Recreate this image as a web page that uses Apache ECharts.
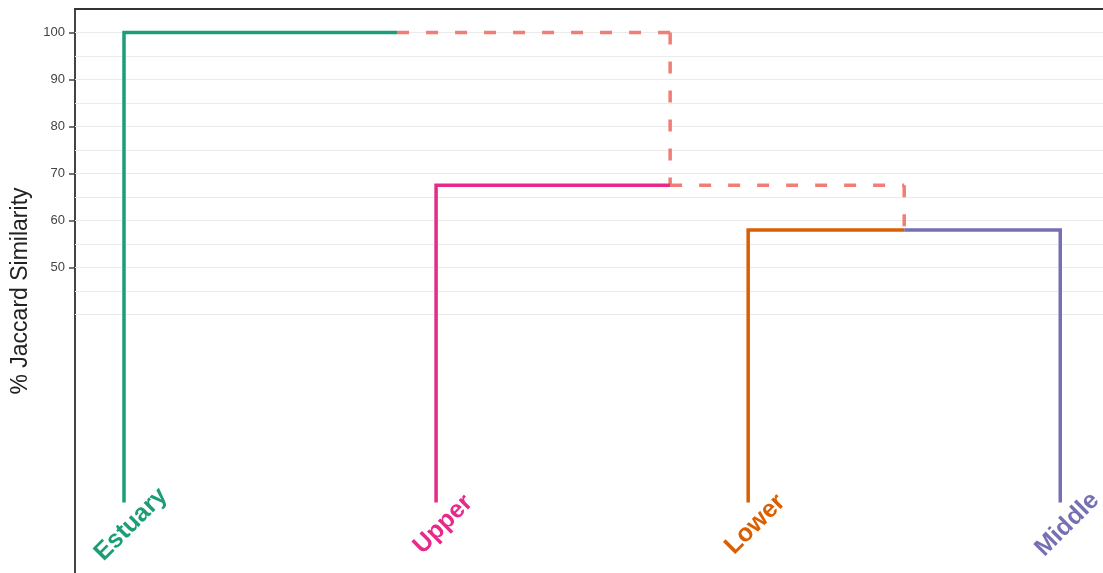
<!DOCTYPE html>
<html>
<head>
<meta charset="utf-8">
<script src="https://cdn.jsdelivr.net/npm/echarts@6/dist/echarts.min.js"></script>
<style>
html,body{margin:0;padding:0;background:#fff;}
#chart{width:1103px;height:573px;}
</style>
</head>
<body>
<div id="chart"></div>
<script>
// Leaves (in dendrogram order) and their colours
const leaves = ['Estuary', 'Upper', 'Lower', 'Middle'];
const leafColors = ['#1b9e77', '#e7298a', '#d95f02', '#7570b3'];
// Merge heights (% Jaccard similarity)
const lowerMiddleHeight = 58;
const upperJoinHeight = 67.5;
const rootHeight = 100;
// Axis ticks
const tickLabels = [50, 60, 70, 80, 90, 100];
const gridValues = [40, 45, 50, 55, 60, 65, 70, 75, 80, 85, 90, 95, 100];
const dashColor = '#f07e76';

// Build dendrogram links from leaf indices and heights
const c1 = (2 + 3) / 2;          // Lower-Middle cluster centre
const c2 = (1 + c1) / 2;         // Upper + cluster centre
const c3 = (0 + c2) / 2;         // root centre

function seg(name, color, pts, dashed) {
  return {
    type: 'line', name: name, data: pts, symbol: 'none', silent: true,
    lineStyle: { color: color, width: 3.5, type: dashed ? [12, 17] : 'solid', cap: 'butt', join: 'miter' },
    z: dashed ? 3 : 4, animation: false
  };
}

const series = [
  {
    type: 'line', data: [], silent: true, z: 1, animation: false,
    markLine: {
      silent: true, symbol: 'none', animation: false, z: 1,
      label: { show: false },
      lineStyle: { color: '#ebebeb', width: 1, type: 'solid' },
      data: gridValues.map(v => ({ yAxis: v }))
    }
  },
  seg('Estuary', leafColors[0], [[0, 0], [0, rootHeight], [c3, rootHeight]]),
  seg('Upper', leafColors[1], [[1, 0], [1, upperJoinHeight], [c2, upperJoinHeight]]),
  seg('Lower', leafColors[2], [[2, 0], [2, lowerMiddleHeight], [c1, lowerMiddleHeight]]),
  seg('Middle', leafColors[3], [[c1, lowerMiddleHeight], [3, lowerMiddleHeight], [3, 0]]),
  seg('linkA', dashColor, [[c3, rootHeight], [c2, rootHeight]], true),
  seg('linkB', dashColor, [[c2, rootHeight], [c2, upperJoinHeight]], true),
  seg('linkC', dashColor, [[c2, upperJoinHeight], [c1, upperJoinHeight]], true),
  seg('linkD', dashColor, [[c1, upperJoinHeight], [c1, lowerMiddleHeight]], true),
  {
    type: 'scatter', symbolSize: 1, silent: true, animation: false,
    itemStyle: { opacity: 0 },
    data: leaves.map((n, i) => ({
      value: [i, 0],
      label: {
        show: true, formatter: n, color: leafColors[i], opacity: 1,
        fontWeight: 'bold', fontSize: 25
      }
    })),
    label: {
      show: true, position: 'inside', rotate: 45, align: 'center', verticalAlign: 'middle',
      offset: [-10.5, 20.5], fontSize: 25, fontWeight: 'bold', opacity: 1,
      textBorderWidth: 0, textBorderColor: 'transparent', textShadowBlur: 0,
      fontFamily: 'Liberation Sans'
    },
    z: 6
  }
];

const chart = echarts.init(document.getElementById('chart'));
chart.setOption({
  backgroundColor: '#fff',
  animation: false,
  grid: { left: 75, right: 0, top: 9, bottom: 0, containLabel: false },
  xAxis: {
    type: 'value', position: 'top', min: -0.157, max: 3.137,
    axisLine: { show: true, onZero: false, lineStyle: { color: '#333', width: 2 } },
    axisTick: { show: false }, axisLabel: { show: false }, splitLine: { show: false }
  },
  yAxis: {
    type: 'value', min: -15, max: 105, interval: 5,
    name: '% Jaccard Similarity', nameLocation: 'middle', nameGap: 34,
    nameTextStyle: { fontSize: 23, color: '#222', fontFamily: 'Liberation Sans, Arial, sans-serif' },
    axisLine: { show: true, onZero: false, lineStyle: { color: '#444', width: 2 } },
    axisTick: { show: true, length: 6, customValues: tickLabels, lineStyle: { color: '#444', width: 1.5 } },
    axisLabel: {
      customValues: tickLabels, color: '#444', fontSize: 13, margin: 10,
      fontFamily: 'Liberation Sans, Arial, sans-serif',
      formatter: v => (tickLabels.indexOf(v) >= 0 ? String(v) : '')
    },
    splitLine: { show: false }
  },
  series: series
});
</script>
</body>
</html>
